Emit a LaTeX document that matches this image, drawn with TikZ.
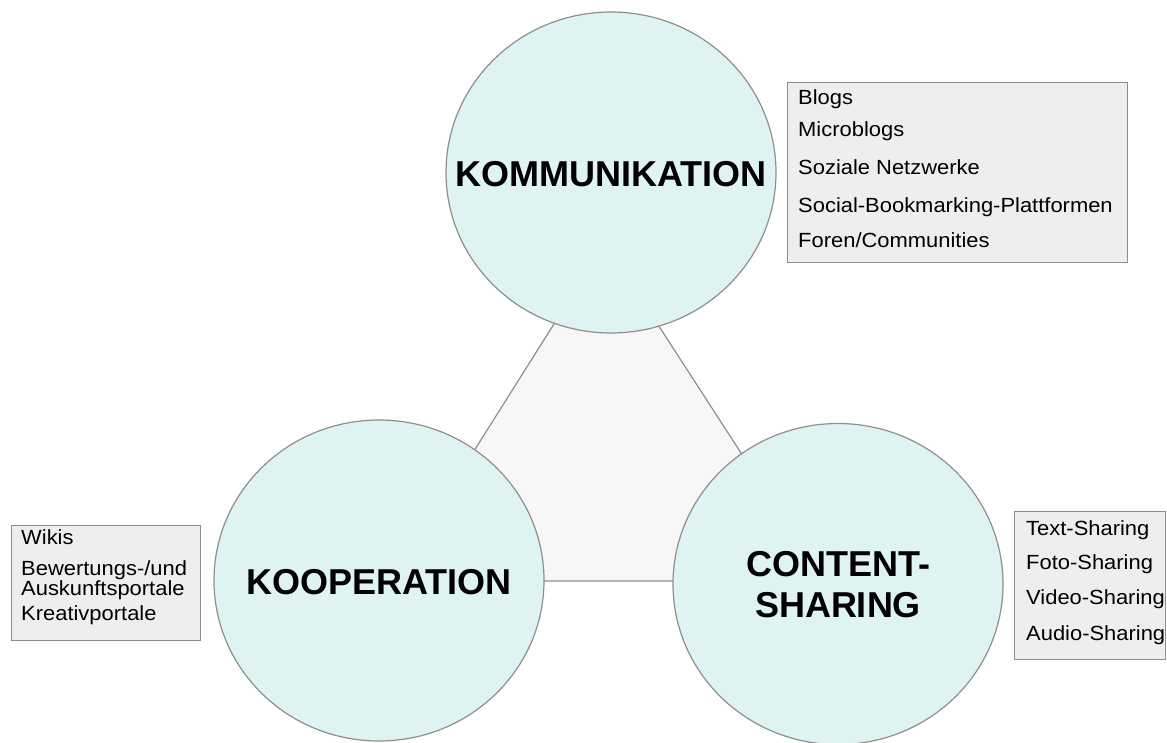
\documentclass[tikz,border=0pt]{standalone}
\usepackage{fontspec}
\setmainfont{Liberation Sans}
\newfontfamily\listfont[FakeStretch=1.07]{Liberation Sans}
\usetikzlibrary{shapes.geometric}
\definecolor{kreis}{HTML}{E0F3F3}
\definecolor{dreieck}{HTML}{F7F7F7}
\definecolor{kasten}{HTML}{EEEEEE}
\definecolor{rand}{HTML}{8E8E8E}

\begin{document}
\begin{tikzpicture}[x=1pt, y=-1pt,
        bubble/.style={ellipse, draw=rand, fill=kreis, line width=1.2pt, minimum width=330pt, minimum height=321pt, inner sep=0pt},
        titel/.style={font=\fontsize{36}{41}\selectfont\bfseries, align=center, inner sep=0pt},
        listbox/.style={draw=rand, fill=kasten, line width=1.2pt, anchor=north west, inner sep=0pt},
        eintrag/.style={font=\listfont\fontsize{20.5}{24}\selectfont, anchor=base west, inner sep=0pt}]
        \useasboundingbox (0,0) rectangle (1167,742);

        % Dreieck
        \coordinate (oben) at (605,243);
        \coordinate (links) at (392,581);
        \coordinate (rechts) at (824,581);
        \draw [draw=rand, fill=dreieck, line width=1.2pt] (oben)--(links)--(rechts)--cycle;

        % Kreise
        \node[bubble] (komm) at (611,172.5) {};
        \node[bubble] (koop) at (379,580.5) {};
        \node[bubble] (content) at (838,584) {};

        \node[titel] (kommtitel) at ([yshift=-1.5pt]komm.center) {KOMMUNIKATION};
        \node[titel] (kooptitel) at ([yshift=-1.5pt]koop.center) {KOOPERATION};
        \node[titel] (contenttitel) at ([yshift=-1pt]content.center) {CONTENT-\\SHARING};

        % Listen
        \node[listbox, minimum width=340pt, minimum height=180pt] (kommliste) at (787,82) {};
        \node[eintrag] (blogs) at (798,104) {Blogs};
        \node[eintrag] (microblogs) at (798,136.7) {Microblogs};
        \node[eintrag] (netzwerke) at (798,174) {Soziale Netzwerke};
        \node[eintrag] (bookmarking) at (798,212) {Social-Bookmarking-Plattformen};
        \node[eintrag] (foren) at (798,247.7) {Foren/Communities};

        \node[listbox, minimum width=189pt, minimum height=115pt] (koopliste) at (11,525) {};
        \node[eintrag] (wikis) at (21,544) {Wikis};
        \node[eintrag, anchor=west, align=left, font=\listfont\fontsize{20.5}{15.5}\selectfont] (bewertung) at (21,580) {Bewertungs-/und\\Auskunftsportale};
        \node[eintrag] (kreativ) at (21,620) {Kreativportale};

        \node[listbox, minimum width=151pt, minimum height=148pt] (contentliste) at (1014,511) {};
        \node[eintrag] (text) at (1026,535) {Text-Sharing};
        \node[eintrag] (foto) at (1026,569) {Foto-Sharing};
        \node[eintrag] (video) at (1026,604) {Video-Sharing};
        \node[eintrag] (audio) at (1026,640) {Audio-Sharing};

    \end{tikzpicture}
\end{document}
